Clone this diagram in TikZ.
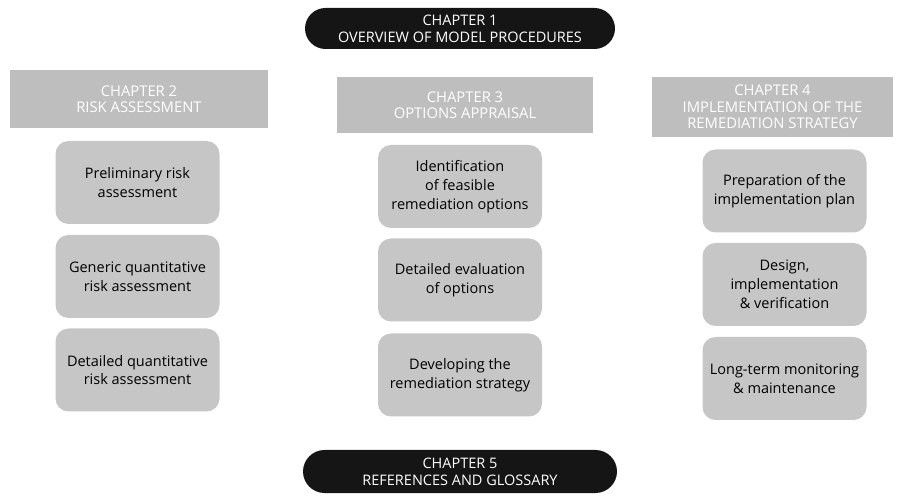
\documentclass[tikz,border=0pt]{standalone}
\usepackage{fontspec}
\setmainfont{Open Sans}
\usetikzlibrary{shapes.misc}
\definecolor{boxgray}{HTML}{C6C6C6}
\definecolor{headgray}{HTML}{BEBEBE}
\definecolor{pillblack}{HTML}{151515}
\begin{document}
\begin{tikzpicture}[x=1pt,y=-1pt,
  chapterpill/.style={rounded rectangle, fill=pillblack, text=white, align=center,
    font=\fontsize{14.5}{17}\selectfont, inner sep=0pt},
  chapterhead/.style={rectangle, fill=headgray, text=white, align=center,
    font=\fontsize{14.8}{16.5}\selectfont, inner sep=0pt},
  stagebox/.style={rectangle, rounded corners=13pt, fill=boxgray, text=black, align=center,
    font=\fontsize{14.5}{18.8}\selectfont, inner sep=0pt,
    minimum width=164pt, minimum height=83pt}
]
\useasboundingbox (0,0) rectangle (903,494);

% top and bottom chapters
\node[chapterpill, minimum width=310pt, minimum height=41pt] (ch1) at (460,28.5)
  {CHAPTER 1\\OVERVIEW OF MODEL PROCEDURES};
\node[chapterpill, minimum width=314pt, minimum height=43pt] (ch5) at (460,471.5)
  {CHAPTER 5\\REFERENCES AND GLOSSARY};

% column headings
\node[chapterhead, minimum width=258pt, minimum height=58pt] (ch2) at (139,99)
  {CHAPTER 2\\RISK ASSESSMENT};
\node[chapterhead, minimum width=256pt, minimum height=56pt] (ch3) at (465,105)
  {CHAPTER 3\\OPTIONS APPRAISAL};
\node[chapterhead, minimum width=241pt, minimum height=60pt] (ch4) at (772.5,107)
  {CHAPTER 4\\IMPLEMENTATION OF THE\\REMEDIATION STRATEGY};

% risk assessment stages
\node[stagebox] (ra1) at (137.5,182.5) {Preliminary risk\\assessment};
\node[stagebox] (ra2) at (137.5,276.5) {Generic quantitative\\risk assessment};
\node[stagebox] (ra3) at (137.5,370) {Detailed quantitative\\risk assessment};

% options appraisal stages
\node[stagebox] (oa1) at (460,186.5) {Identification\\of feasible\\remediation options};
\node[stagebox] (oa2) at (460,280) {Detailed evaluation\\of options};
\node[stagebox] (oa3) at (460,375) {Developing the\\remediation strategy};

% implementation stages
\node[stagebox] (im1) at (784.5,191) {Preparation of the\\implementation plan};
\node[stagebox] (im2) at (784.5,284.5) {Design,\\implementation\\\& verification};
\node[stagebox] (im3) at (784.5,378.5) {Long-term monitoring\\\& maintenance};
\end{tikzpicture}
\end{document}
